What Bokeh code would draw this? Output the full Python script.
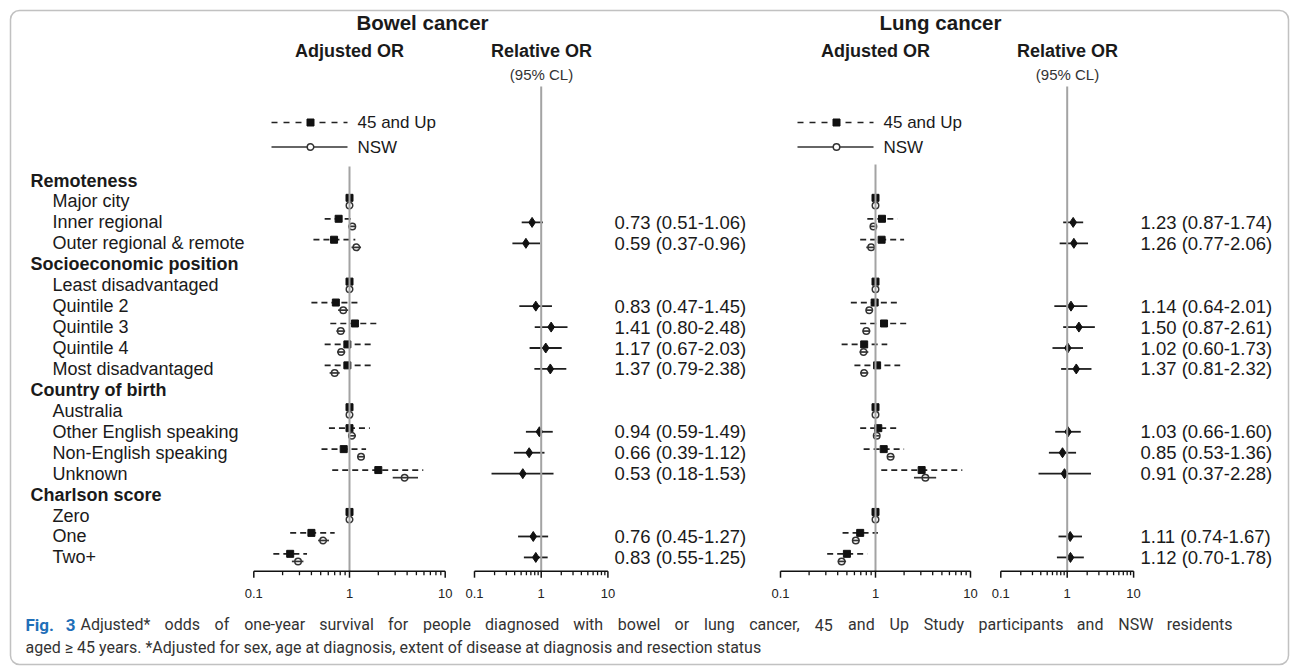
import numpy as np
from bokeh.plotting import figure
from bokeh.models import Range1d, LogScale, BoxAnnotation
from bokeh.core.properties import value
from bokeh.embed import file_html
from bokeh.resources import INLINE

# ---------------- data ----------------
cancers = ["Bowel cancer", "Lung cancer"]
panel_titles = ["Adjusted OR", "Relative OR"]
ci_note = "(95% CL)"
series = ["45 and Up", "NSW"]

row_labels = ["Remoteness", "Major city", "Inner regional", "Outer regional & remote",
              "Socioeconomic position", "Least disadvantaged", "Quintile 2", "Quintile 3",
              "Quintile 4", "Most disadvantaged",
              "Country of birth", "Australia", "Other English speaking", "Non-English speaking", "Unknown",
              "Charlson score", "Zero", "One", "Two+"]
row_is_header = [1, 0, 0, 0, 1, 0, 0, 0, 0, 0, 1, 0, 0, 0, 0, 1, 0, 0, 0]

bowel_45_or = [1.00, 0.77, 0.69, 1.00, 0.72, 1.14, 0.95, 0.95, 1.00, 1.00, 0.87, 2.00, 1.00, 0.40, 0.24]
bowel_45_lo = [None, 0.55, 0.42, None, 0.40, 0.63, 0.55, 0.55, None, 0.61, 0.51, 0.66, None, 0.24, 0.16]
bowel_45_hi = [None, 1.13, 1.15, None, 1.28, 2.05, 1.69, 1.72, None, 1.63, 1.49, 5.90, None, 0.70, 0.36]
bowel_nsw_or = [1.00, 1.07, 1.18, 1.00, 0.86, 0.81, 0.82, 0.70, 1.00, 1.06, 1.32, 3.77, 1.00, 0.53, 0.29]
bowel_nsw_lo = [None, 0.98, 1.05, None, 0.76, 0.73, 0.74, 0.62, None, 0.97, 1.20, 2.83, None, 0.47, 0.25]
bowel_nsw_hi = [None, 1.17, 1.32, None, 0.97, 0.90, 0.90, 0.79, None, 1.17, 1.44, 5.20, None, 0.61, 0.33]
bowel_rel = [None, 0.73, 0.59, None, 0.83, 1.41, 1.17, 1.37, None, 0.94, 0.66, 0.53, None, 0.76, 0.83]
bowel_rel_lo = [None, 0.51, 0.37, None, 0.47, 0.80, 0.67, 0.79, None, 0.59, 0.39, 0.18, None, 0.45, 0.55]
bowel_rel_hi = [None, 1.06, 0.96, None, 1.45, 2.48, 2.03, 2.38, None, 1.49, 1.12, 1.53, None, 1.27, 1.25]

lung_45_or = [1.00, 1.17, 1.16, 1.00, 0.98, 1.23, 0.76, 1.04, 1.00, 1.07, 1.22, 3.06, 1.00, 0.69, 0.50]
lung_45_lo = [None, 0.82, 0.69, None, 0.55, 0.69, 0.44, 0.60, None, 0.69, 0.75, 1.15, None, 0.45, 0.31]
lung_45_hi = [None, 1.70, 2.00, None, 1.80, 2.17, 1.33, 1.82, None, 1.70, 2.00, 8.20, None, 1.06, 0.82]
lung_nsw_or = [1.00, 0.95, 0.90, 1.00, 0.86, 0.80, 0.75, 0.76, 1.00, 1.03, 1.44, 3.35, 1.00, 0.62, 0.44]
lung_nsw_lo = [None, 0.88, 0.80, None, 0.79, 0.73, 0.68, 0.69, None, 0.96, 1.32, 2.54, None, 0.57, 0.40]
lung_nsw_hi = [None, 1.03, 1.00, None, 0.94, 0.88, 0.84, 0.84, None, 1.11, 1.58, 4.35, None, 0.68, 0.49]
lung_rel = [None, 1.23, 1.26, None, 1.14, 1.50, 1.02, 1.37, None, 1.03, 0.85, 0.91, None, 1.11, 1.12]
lung_rel_lo = [None, 0.87, 0.77, None, 0.64, 0.87, 0.60, 0.81, None, 0.66, 0.53, 0.37, None, 0.74, 0.70]
lung_rel_hi = [None, 1.74, 2.06, None, 2.01, 2.61, 1.73, 2.32, None, 1.60, 1.36, 2.28, None, 1.67, 1.78]

axis_major = [0.1, 1, 10]
axis_major_labels = ["0.1", "1", "10"]
axis_minor = [0.2, 0.3, 0.4, 0.5, 0.6, 0.7, 0.8, 0.9, 2, 3, 4, 5, 6, 7, 8, 9]

caption_bold = "Fig. 3"
caption_line1 = ("Adjusted* odds of one-year survival for people diagnosed with bowel or lung cancer, "
                 "45 and Up Study participants and NSW residents")
caption_line2 = ("aged \u2265 45 years. *Adjusted for sex, age at diagnosis, extent of disease at "
                 "diagnosis and resection status")

# ---------------- layout ----------------
W, H = 1290, 666
ROW0, ROWSTEP = 180.0, 20.94        # page y of first row, row pitch
AXIS_Y = 570.7
FONT = "Liberation Sans"
CAP_FONT = "Roboto"
CAP_SIZE = 16
INK = "#1a1a1a"

p = figure(width=W, height=H, output_backend="svg", toolbar_location=None, title=None,
           x_range=Range1d(0, W), y_range=Range1d(H, 0),
           x_axis_location=None, y_axis_location=None, min_border=0,
           outline_line_color=None)
p.xgrid.visible = False
p.ygrid.visible = False
p.extra_y_ranges = {"rows": Range1d((H - ROW0) / ROWSTEP, (0 - ROW0) / ROWSTEP)}

# panel placement: page x of OR=1 and pixels per decade
panels = {"ba": (349.0, 95.7), "br": (540.7, 66.7), "la": (875.0, 95.0), "lr": (1066.7, 66.4)}
xr, xs = {}, {}
for k, (x1, dec) in panels.items():
    xr[k] = Range1d(10 ** (-x1 / dec), 10 ** ((W - x1) / dec))
    xs[k] = LogScale()
p.extra_x_ranges = xr
p.extra_x_scales = xs

cat_rows = [i for i, h in enumerate(row_is_header) if not h]

def tf(size, bold=False, color=INK, align="left", font=FONT):
    return dict(text_font=value(font), text_font_size=f"{size}px",
                text_font_style="bold" if bold else "normal", text_color=color,
                text_align=align, text_baseline="middle")

# row labels
hx = [30 if h else 52 for h in row_is_header]
p.text(x=hx, y=list(range(len(row_labels))), text=row_labels, y_range_name="rows",
       text_font=value(FONT), text_font_size="18px",
       text_font_style=["bold" if h else "normal" for h in row_is_header],
       text_color=INK, text_align="left", text_baseline="middle")

D45, DNSW = -3.6 / ROWSTEP, 4.0 / ROWSTEP

def draw_axis(rng, top):
    p.segment(x0=[1], y0=[top], x1=[1], y1=[AXIS_Y], x_range_name=rng,
              line_color="#a3a3a3", line_width=2)
    p.segment(x0=[axis_major[0]], y0=[AXIS_Y], x1=[axis_major[-1]], y1=[AXIS_Y],
              x_range_name=rng, line_color="#111", line_width=1.5)
    p.segment(x0=axis_major, y0=[AXIS_Y] * 3, x1=axis_major, y1=[AXIS_Y + 6.5] * 3,
              x_range_name=rng, line_color="#111", line_width=1.5)
    p.segment(x0=axis_minor, y0=[AXIS_Y] * len(axis_minor), x1=axis_minor,
              y1=[AXIS_Y + 4] * len(axis_minor), x_range_name=rng, line_color="#111", line_width=1.3)
    p.text(x=axis_major, y=[592.5] * 3, text=axis_major_labels, x_range_name=rng,
           **tf(13, color="#222", align="center"))

def draw_adjusted(rng, o45, l45, h45, on, ln, hn, top):
    y45 = [cat_rows[i] + D45 for i in range(len(o45))]
    yn = [cat_rows[i] + DNSW for i in range(len(on))]
    idx = [i for i in range(len(o45)) if l45[i] is not None]
    p.segment(x0=[l45[i] for i in idx], y0=[y45[i] for i in idx],
              x1=[h45[i] for i in idx], y1=[y45[i] for i in idx],
              x_range_name=rng, y_range_name="rows", line_color="#222",
              line_width=1.7, line_dash="6 4")
    idx = [i for i in range(len(on)) if ln[i] is not None]
    p.segment(x0=[ln[i] for i in idx], y0=[yn[i] for i in idx],
              x1=[hn[i] for i in idx], y1=[yn[i] for i in idx],
              x_range_name=rng, y_range_name="rows", line_color="#333", line_width=1.7)
    p.scatter(x=o45, y=y45, marker="square", size=7, fill_color="#111", line_color="#111",
              x_range_name=rng, y_range_name="rows")
    p.scatter(x=on, y=yn, marker="circle", size=6.5, fill_color=None, line_color="#333",
              line_width=1.5, x_range_name=rng, y_range_name="rows")
    draw_axis(rng, top)

def draw_relative(rng, r, rl, rh, text_x, top):
    idx = [i for i in range(len(r)) if r[i] is not None]
    yy = [cat_rows[i] for i in idx]
    p.segment(x0=[rl[i] for i in idx], y0=yy, x1=[rh[i] for i in idx], y1=yy,
              x_range_name=rng, y_range_name="rows", line_color="#1e1e1e", line_width=1.8)
    p.scatter(x=[r[i] for i in idx], y=yy, marker="diamond", size=10, fill_color="#111",
              line_color="#111", x_range_name=rng, y_range_name="rows")
    labels = ["%.2f (%.2f-%.2f)" % (r[i], rl[i], rh[i]) for i in idx]
    p.text(x=[text_x] * len(idx), y=yy, text=labels, y_range_name="rows", **tf(18.5))
    draw_axis(rng, top)

draw_adjusted("ba", bowel_45_or, bowel_45_lo, bowel_45_hi,
              bowel_nsw_or, bowel_nsw_lo, bowel_nsw_hi, 166)
draw_relative("br", bowel_rel, bowel_rel_lo, bowel_rel_hi, 614, 86)
draw_adjusted("la", lung_45_or, lung_45_lo, lung_45_hi,
              lung_nsw_or, lung_nsw_lo, lung_nsw_hi, 164)
draw_relative("lr", lung_rel, lung_rel_lo, lung_rel_hi, 1140, 86)

# headings
p.text(x=[422, 940], y=[22, 22], text=cancers, **tf(20.5, bold=True, align="center"))
p.text(x=[349, 875], y=[50, 50], text=[panel_titles[0]] * 2, **tf(18, bold=True, align="center"))
p.text(x=[541, 1067], y=[50, 50], text=[panel_titles[1]] * 2, **tf(18, bold=True, align="center"))
p.text(x=[541, 1067], y=[74, 74], text=[ci_note] * 2, **tf(15, color="#333", align="center"))

# legends
for lx0, lx1, mx, tx in [(271, 347, 310, 357), (797, 873, 836, 883)]:
    p.segment(x0=[lx0], y0=[122], x1=[lx1], y1=[122], line_color="#222", line_width=1.7,
              line_dash="6 6")
    p.scatter(x=[mx], y=[122], marker="square", size=7, fill_color="#111", line_color="#111")
    p.segment(x0=[lx0], y0=[146.5], x1=[lx1], y1=[146.5], line_color="#333", line_width=1.7)
    p.scatter(x=[mx], y=[146.5], marker="circle", size=6.5, fill_color="white",
              line_color="#333", line_width=1.5)
    p.text(x=[tx, tx], y=[122, 146.5], text=series, **tf(17))

# caption (first line justified word by word, as in the reference)
ROBOTO_W = {"a": .544, "b": .549, "c": .511, "d": .552, "e": .517, "f": .340, "g": .549, "h": .539,
            "i": .238, "j": .233, "k": .496, "l": .238, "m": .855, "n": .540, "o": .557, "p": .549,
            "q": .553, "r": .331, "s": .504, "t": .319, "u": .539, "v": .473, "w": .734, "x": .486,
            "y": .462, "z": .486, ",": .192, ".": .257, "-": .270, "*": .432, "A": .652, "F": .554,
            "N": .699, "S": .594, "U": .635, "W": .866, "3": .561, "4": .561, "5": .561}

def est_w(s):
    return sum(ROBOTO_W.get(ch, .56) for ch in s) * CAP_SIZE

fig_parts = caption_bold.split()
p.text(x=[25], y=[624], text=[fig_parts[0]], **tf(17, bold=True, color="#1f6fb8", font=CAP_FONT))
p.text(x=[75], y=[624], text=[fig_parts[1]], **tf(17, bold=True, color="#1f6fb8", font=CAP_FONT,
                                                   align="right"))
words = caption_line1.split()
x_start, x_end = 80.0, 1232.0
widths = [est_w(w) for w in words]
gap = (x_end - x_start - sum(widths)) / (len(words) - 1)
xs_w, cx = [], x_start
for wd in widths:
    xs_w.append(cx)
    cx += wd + gap
p.text(x=xs_w[:-1], y=[624] * (len(words) - 1), text=words[:-1],
       **tf(CAP_SIZE, color="#333", font=CAP_FONT))
p.text(x=[x_end], y=[624], text=[words[-1]], **tf(CAP_SIZE, color="#333", align="right", font=CAP_FONT))
p.text(x=[25], y=[647], text=[caption_line2], **tf(CAP_SIZE, color="#333", font=CAP_FONT))

# frame
p.add_layout(BoxAnnotation(left=10, right=1288, top=10, bottom=664, fill_alpha=0,
                           line_color="#333", line_width=1.5, border_radius=9))

open("out.html", "w").write(file_html(p, INLINE))
